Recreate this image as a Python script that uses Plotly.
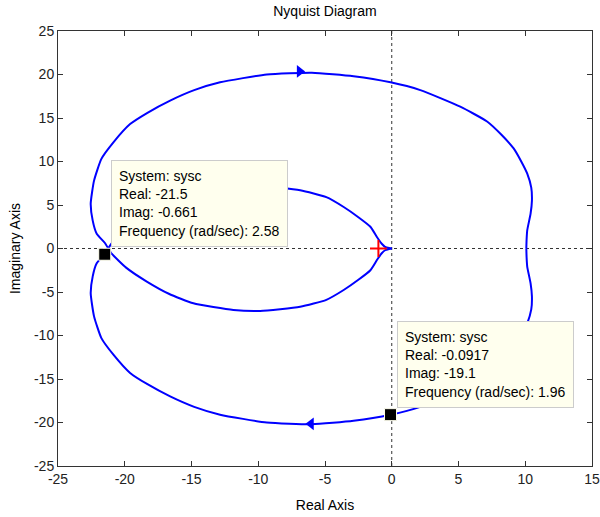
import plotly.graph_objects as go

# Nyquist curve of sysc, positive-frequency branch (omega: 0 -> inf)
re_pos = [10.08, 10.1, 10.15, 10.4, 10.5, 10.45, 10.15, 9.7, 9.13, 8.2, 7.14, 5.13, 2.14,
          -0.0917, -2.86, -5.98, -9.36, -12.86, -14.8, -16.6, -18.3, -19.6, -20.85, -21.75,
          -22.3, -22.55, -22.4, -22.1, -21.5, -21.0, -19.9, -18.35, -16.7, -14.86, -11.86,
          -9.86, -6.86, -4.9, -3.6, -2.5, -1.6, -1.1, -0.75, -0.5, -0.2, 0.0]
im_pos = [0.0, -1.0, -2.1, -4.0, -5.5, -7.0, -8.6, -10.0, -11.5, -13.1, -14.6, -16.3, -18.2,
          -19.1, -19.8, -20.2, -20.0, -19.1, -18.2, -17.0, -15.6, -14.3, -12.2, -10.3,
          -7.8, -5.15, -3.2, -1.7, -0.661, 0.55, 2.2, 3.8, 5.2, 6.3, 7.07,
          7.18, 6.7, 5.9, 4.77, 3.6, 2.5, 1.3, 0.55, 0.2, 0.05, 0.0]

# Negative-frequency branch is the complex conjugate
re_neg = list(re_pos)
im_neg = [-v for v in im_pos]

# Direction arrows on the outer loop
arrow_re = [-6.9, -6.05]
arrow_im = [20.35, -20.15]
arrow_sym = ["triangle-right", "triangle-left"]

# Data tips
tip_re = [-21.5, -0.0917]
tip_im = [-0.661, -19.1]
tip_freq = [2.58, 1.96]
system_name = "sysc"

x_ticks = [-25, -20, -15, -10, -5, 0, 5, 10, 15]
y_ticks = [-25, -20, -15, -10, -5, 0, 5, 10, 15, 20, 25]

FONT = "Liberation Sans, Arial, Helvetica, sans-serif"
BLUE = "#0000FF"

fig = go.Figure()

for xs, ys in ((re_pos, im_pos), (re_neg, im_neg)):
    fig.add_trace(go.Scatter(
        x=xs, y=ys, mode="lines",
        line=dict(color=BLUE, width=2, shape="spline", smoothing=0.5),
        hoverinfo="skip", showlegend=False,
    ))

fig.add_trace(go.Scatter(
    x=arrow_re, y=arrow_im, mode="markers",
    marker=dict(symbol=arrow_sym, size=11, color=BLUE, line=dict(width=0)),
    hoverinfo="skip", showlegend=False,
))

# Critical point -1
fig.add_trace(go.Scatter(
    x=[-1], y=[0], mode="markers",
    marker=dict(symbol="cross-thin", size=12, line=dict(color="#FF0000", width=2)),
    hoverinfo="skip", showlegend=False,
))

fig.add_trace(go.Scatter(
    x=tip_re, y=tip_im, mode="markers",
    marker=dict(symbol="square", size=12, color="#000000",
                line=dict(color="#FFFFEE", width=1)),
    hoverinfo="skip", showlegend=False,
))

for r, i, w in zip(tip_re, tip_im, tip_freq):
    fig.add_annotation(
        x=r, y=i, xref="x", yref="y",
        text=(f"System: {system_name}<br>Real: {r:g}<br>Imag: {i:g}"
              f"<br>Frequency (rad/sec): {w:g}"),
        showarrow=False, xanchor="left", yanchor="bottom",
        xshift=6, yshift=7, align="left",
        font=dict(family=FONT, size=14, color="#000000"),
        bgcolor="#FFFFEE", bordercolor="#CCCCCC", borderwidth=1, borderpad=7,
    )

# Dotted zero lines
fig.add_shape(type="line", x0=0, x1=0, y0=-25, y1=25, xref="x", yref="y",
              line=dict(color="#333333", width=1, dash="dot"), layer="below")
fig.add_shape(type="line", x0=-25, x1=15, y0=0, y1=0, xref="x", yref="y",
              line=dict(color="#333333", width=1, dash="dot"), layer="below")

axis_common = dict(
    showgrid=False, zeroline=False, showline=True, linecolor="#333333", linewidth=1,
    mirror="ticks", ticks="inside", ticklen=5, tickcolor="#333333", tickwidth=1,
    tickfont=dict(family=FONT, size=14, color="#222222"), automargin=False,
)

fig.update_layout(
    width=600, height=517,
    margin=dict(l=58, r=8, t=31, b=51),
    paper_bgcolor="#FFFFFF", plot_bgcolor="#FFFFFF",
    title=dict(text="Nyquist Diagram", x=0.5, xref="paper", y=0.978, yanchor="middle",
               font=dict(family=FONT, size=14, color="#000000")),
    xaxis=dict(range=[-25, 15], tickvals=x_ticks, ticktext=[str(v) for v in x_ticks],
               title=dict(text="Real Axis", standoff=14,
                          font=dict(family=FONT, size=14, color="#000000")),
               **axis_common),
    yaxis=dict(range=[-25, 25], tickvals=y_ticks, ticktext=[str(v) for v in y_ticks],
               title=dict(text="Imaginary Axis", standoff=10,
                          font=dict(family=FONT, size=14, color="#000000")),
               **axis_common),
    font=dict(family=FONT),
)

fig.write_html("out.html")
